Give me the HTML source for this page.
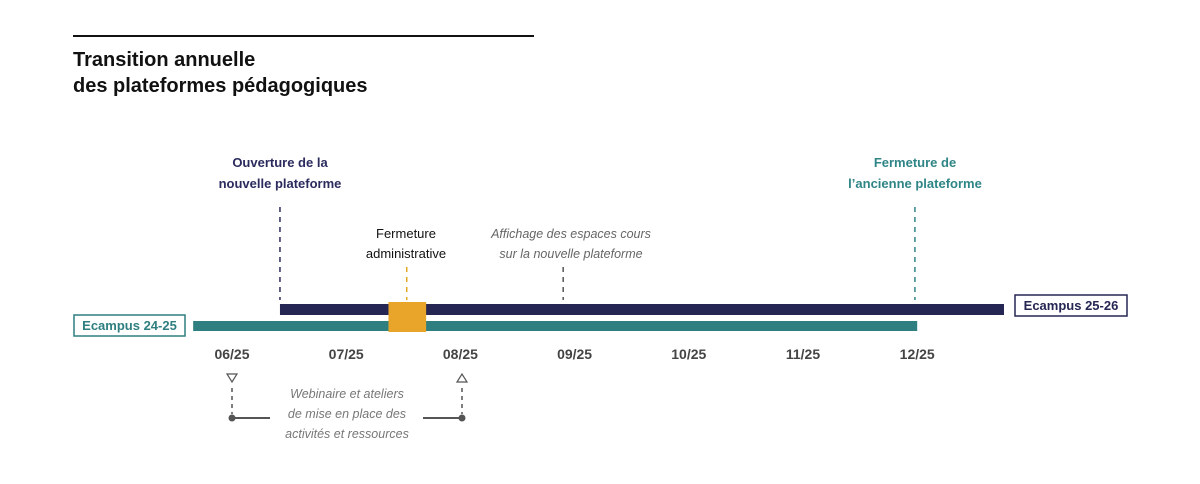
<!DOCTYPE html>
<html><head><meta charset="utf-8"><style>
html,body{margin:0;padding:0;background:#fff;}
svg{display:block;font-family:"Liberation Sans",sans-serif;}
</style></head><body>
<svg id="chart" width="1200" height="484" viewBox="0 0 1200 484">
<line x1="73" y1="36" x2="534" y2="36" stroke="#111" stroke-width="2"/>
<text x="73" y="66" font-size="20" font-weight="bold" fill="#111">Transition annuelle</text>
<text x="73" y="92" font-size="20" font-weight="bold" fill="#111">des plateformes pédagogiques</text>
<g id="marks"></g>
<g>
<rect x="74" y="315" width="111" height="21" fill="#fff" stroke="#2f7f80" stroke-width="1.5"/>
<text x="129.5" y="330" font-size="13" font-weight="bold" fill="#2f7f80" text-anchor="middle">Ecampus 24-25</text>
</g>
<g>
<rect x="1015" y="295" width="112" height="21" fill="#fff" stroke="#262654" stroke-width="1.5"/>
<text x="1071" y="310" font-size="13" font-weight="bold" fill="#262654" text-anchor="middle">Ecampus 25-26</text>
</g>
<text x="280" y="167" font-size="13" font-weight="bold" fill="#2b2b5e" text-anchor="middle"><tspan x="280">Ouverture de la</tspan><tspan x="280" dy="21">nouvelle plateforme</tspan></text>
<text x="915" y="167" font-size="13" font-weight="bold" fill="#2f8586" text-anchor="middle"><tspan x="915">Fermeture de</tspan><tspan x="915" dy="21">l’ancienne plateforme</tspan></text>
<text x="406" y="238" font-size="13" fill="#111" text-anchor="middle"><tspan x="406">Fermeture</tspan><tspan x="406" dy="20">administrative</tspan></text>
<text x="571" y="238" font-size="12.5" font-style="italic" fill="#666" text-anchor="middle"><tspan x="571">Affichage des espaces cours</tspan><tspan x="571" dy="20">sur la nouvelle plateforme</tspan></text>
<text x="347" y="398" font-size="12.5" font-style="italic" fill="#777" text-anchor="middle"><tspan x="347">Webinaire et ateliers</tspan><tspan x="347" dy="20">de mise en place des</tspan><tspan x="347" dy="20">activités et ressources</tspan></text>
<g stroke="#555" fill="none">
<polygon points="227,374 237,374 232,382" stroke-width="1.2"/>
<polygon points="457,382 467,382 462,374" stroke-width="1.2"/>
<line x1="232" y1="388" x2="232" y2="414" stroke-dasharray="4,4" stroke-width="1.5"/>
<line x1="462" y1="388" x2="462" y2="414" stroke-dasharray="4,4" stroke-width="1.5"/>
<line x1="232" y1="418" x2="270" y2="418" stroke-width="2"/>
<line x1="423" y1="418" x2="462" y2="418" stroke-width="2"/>
<circle cx="232" cy="418" r="3" fill="#555"/>
<circle cx="462" cy="418" r="3" fill="#555"/>
</g>
</svg>
<script>
const monthLabels = ["06/25","07/25","08/25","09/25","10/25","11/25","12/25"];
const monthValues = [6,7,8,9,10,11,12];
const oldStart = 5.66, oldEnd = 12;
const newStart = 6.42, newEnd = 12.76;
const closureStart = 7.37, closureEnd = 7.7;
const eventMonths = [6.42, 7.53, 8.9, 11.98];
const eventNames = ["ouverture","fermeture-admin","affichage","fermeture-ancienne"];
const eventColors = ["#2b2b5e","#e0a825","#555","#2f8586"];
const eventTop = [207, 267, 267, 207];

const x = m => 232 + (m - 6) * 114.2;
const ns = "http://www.w3.org/2000/svg";
const g = document.getElementById("marks");
function mk(tag, attrs){const e=document.createElementNS(ns,tag);for(const k in attrs)e.setAttribute(k,attrs[k]);g.appendChild(e);return e;}

eventMonths.forEach((m,i)=>{
  const l = mk("line",{x1:x(m),x2:x(m),y1:eventTop[i],y2:300,stroke:eventColors[i],"stroke-width":1.5,"stroke-dasharray":"5,5"});
  
  
});
const nb = mk("rect",{x:x(newStart),y:304,width:x(newEnd)-x(newStart),height:11,fill:"#262654"});


const ob = mk("rect",{x:x(oldStart),y:321,width:x(oldEnd)-x(oldStart),height:10,fill:"#2f7f80"});


const cb = mk("rect",{x:x(closureStart),y:302,width:x(closureEnd)-x(closureStart),height:30,fill:"#e8a52a"});


monthValues.forEach((m,i)=>{
  const t = mk("text",{x:x(m),y:359,"font-size":14,"font-weight":"bold",fill:"#444","text-anchor":"middle"});
  t.textContent = monthLabels[i];
  
  
});
</script>
</body></html>
